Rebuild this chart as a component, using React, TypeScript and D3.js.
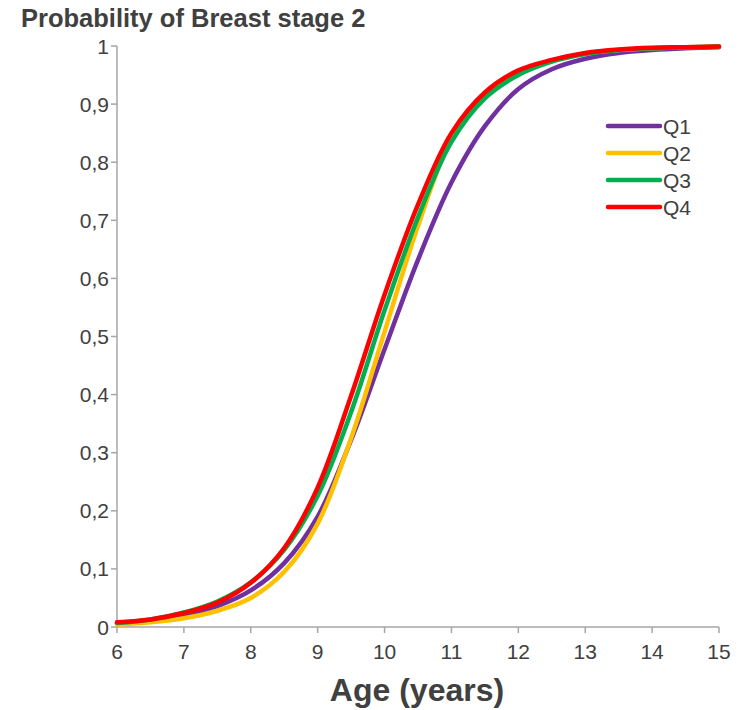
import React from "react";
import * as d3 from "d3";

const ages = [6, 6.5, 7, 7.5, 8, 8.5, 9, 9.5, 10, 10.5, 11, 11.5, 12, 12.5, 13, 13.5, 14, 14.5, 15];
const q1 = [0.006, 0.011, 0.02, 0.036, 0.063, 0.11, 0.19, 0.322, 0.478, 0.632, 0.765, 0.862, 0.926, 0.96, 0.978, 0.988, 0.993, 0.996, 0.998];
const q2 = [0.004, 0.008, 0.015, 0.028, 0.05, 0.095, 0.178, 0.325, 0.508, 0.69, 0.84, 0.915, 0.952, 0.974, 0.987, 0.993, 0.996, 0.998, 0.999];
const q3 = [0.007, 0.013, 0.025, 0.044, 0.077, 0.133, 0.226, 0.37, 0.545, 0.705, 0.835, 0.91, 0.95, 0.973, 0.986, 0.993, 0.996, 0.998, 0.999];
const q4 = [0.008, 0.013, 0.024, 0.042, 0.076, 0.136, 0.24, 0.398, 0.572, 0.727, 0.85, 0.92, 0.958, 0.976, 0.988, 0.994, 0.997, 0.998, 0.999];

const seriesNames = ["Q1", "Q2", "Q3", "Q4"];
const seriesValues = [q1, q2, q3, q4];
const seriesColors = ["#7030A0", "#FFC000", "#00B050", "#FF0000"];

const xTicks = [6, 7, 8, 9, 10, 11, 12, 13, 14, 15];
const yTicks = [0, 0.1, 0.2, 0.3, 0.4, 0.5, 0.6, 0.7, 0.8, 0.9, 1];

const title = "Probability of Breast stage 2";
const xTitle = "Age (years)";

export default function App() {
  const W = 746, H = 710;
  const left = 117, right = 719, top = 46, bottom = 627;
  const x = d3.scaleLinear().domain([6, 15]).range([left, right]);
  const y = d3.scaleLinear().domain([0, 1]).range([bottom, top]);
  const line = d3
    .line<[number, number]>()
    .x((d) => x(d[0]))
    .y((d) => y(d[1]))
    .curve(d3.curveCatmullRom.alpha(0.5));

  const axisColor = "#A6A6A6";
  const textColor = "#404040";
  const font = "'Liberation Sans', Arial, sans-serif";
  const fmt = (v: number) => (v === 0 || v === 1 ? String(v) : v.toFixed(1).replace(".", ","));

  return (
    <svg width={W} height={H} style={{ position: "absolute", left: 0, top: 0, background: "#fff" }} fontFamily={font}>
      <rect width={W} height={H} fill="#fff" />
      <text x={21} y={27} fontSize={25.5} fontWeight="bold" fill={textColor}>
        {title}
      </text>
      {/* y axis */}
      <line x1={left} x2={left} y1={top} y2={bottom} stroke={axisColor} strokeWidth={1.5} />
      {yTicks.map((t) => (
        <g key={"y" + t}>
          <line x1={left - 6} x2={left} y1={y(t)} y2={y(t)} stroke={axisColor} strokeWidth={1.5} />
          <text x={left - 8} y={y(t)} dy="0.36em" textAnchor="end" fontSize={21} fill={textColor}>
            {fmt(t)}
          </text>
        </g>
      ))}
      {/* x axis */}
      <line x1={left} x2={right} y1={bottom} y2={bottom} stroke={axisColor} strokeWidth={1.5} />
      {xTicks.map((t) => (
        <g key={"x" + t}>
          <line x1={x(t)} x2={x(t)} y1={bottom} y2={bottom + 6} stroke={axisColor} strokeWidth={1.5} />
          <text x={x(t)} y={bottom + 32} textAnchor="middle" fontSize={21} fill={textColor}>
            {t}
          </text>
        </g>
      ))}
      <text x={417} y={701} textAnchor="middle" fontSize={32} fontWeight="bold" fill={textColor}>
        {xTitle}
      </text>
      {/* series */}
      {seriesValues.map((vals, i) => (
        <path
          key={seriesNames[i]}
          d={line(ages.map((a, j) => [a, vals[j]] as [number, number])) || ""}
          fill="none"
          stroke={seriesColors[i]}
          strokeWidth={4.5}
          strokeLinecap="round"
          strokeLinejoin="round"
        />
      ))}
      {/* legend */}
      {seriesNames.map((n, i) => (
        <g key={"lg" + n} transform={`translate(0, ${126 + i * 27})`}>
          <line x1={608} x2={660} y1={0} y2={0} stroke={seriesColors[i]} strokeWidth={4.5} strokeLinecap="round" />
          <text x={663} y={0} dy="0.36em" fontSize={21} fill={textColor}>
            {n}
          </text>
        </g>
      ))}
    </svg>
  );
}
